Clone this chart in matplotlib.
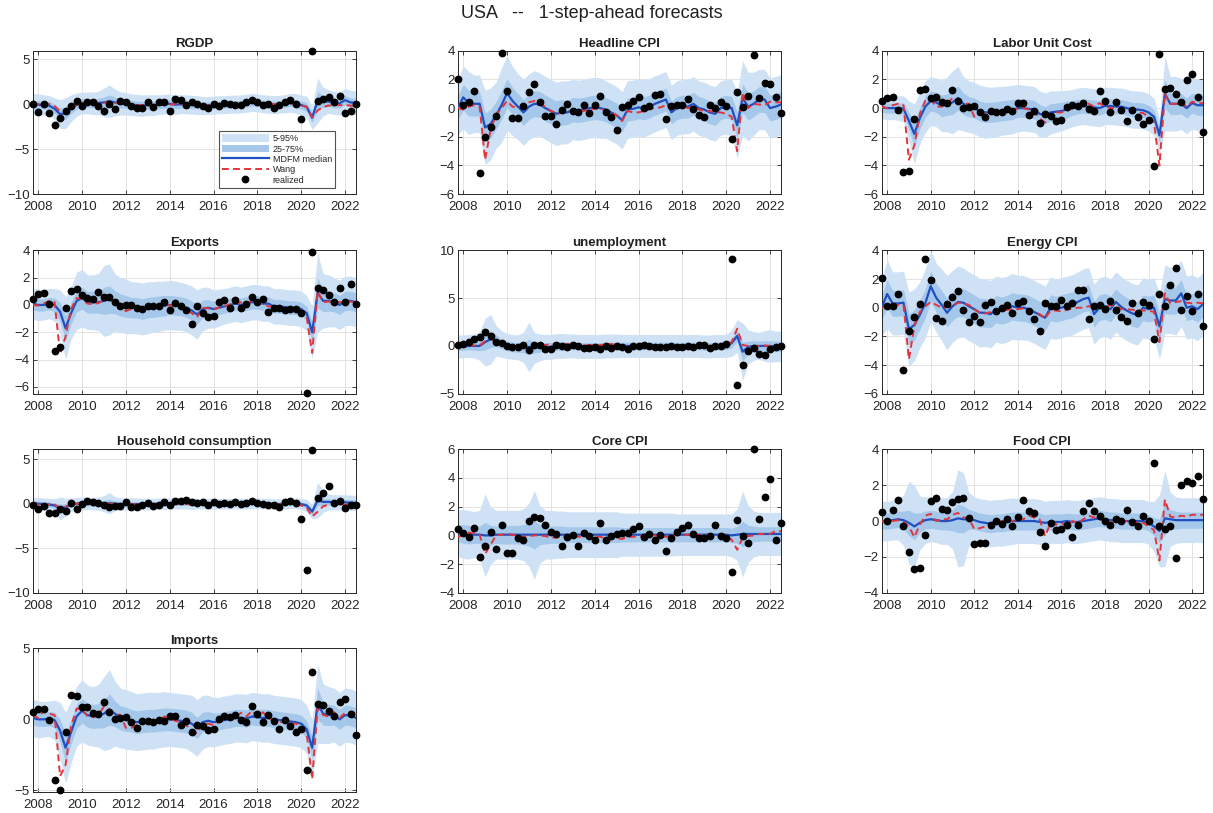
import numpy as np
import matplotlib
matplotlib.use("Agg")
import matplotlib.pyplot as plt
from matplotlib.patches import Patch
from matplotlib.lines import Line2D

plt.rcParams['font.family'] = ['Liberation Sans', 'DejaVu Sans']

# quarterly forecast dates, 2007Q4 .. 2022Q3
dates = 2007.75 + 0.25 * np.arange(60)
nan = np.nan

# ---------------- RGDP ----------------
rgdp_real = [0.0, -0.85, 0.0, -0.95, -2.3, -1.5, -0.7, -0.25, 0.35, -0.15,
             0.3, 0.2, -0.15, -0.7, 0.05, -0.5, 0.4, 0.2, -0.15, -0.4,
             -0.4, 0.25, -0.3, 0.2, 0.2, -0.75, 0.55, 0.5, -0.1, 0.25,
             0.05, -0.2, -0.4, 0.0, -0.25, 0.15, 0.0, -0.05, -0.05, 0.2,
             0.45, 0.2, -0.05, 0.05, -0.4, -0.05, 0.25, 0.45, 0.05, -1.65,
             nan, 5.9, 0.35, 0.55, 0.75, 0.2, 0.9, -0.95, -0.7, 0.0]
rgdp_med = [0.0, -0.05, -0.1, -0.15, -0.5, -1.1, -1.0, -0.45, -0.05, 0.15,
            0.15, 0.1, 0.15, 0.2, 0.35, 0.2, 0.1, 0.05, -0.05, -0.1,
            -0.15, -0.1, -0.1, -0.05, 0.0, 0.05, -0.05, 0.0, 0.0, -0.05,
            -0.1, -0.15, -0.15, -0.1, -0.05, -0.05, 0.0, 0.0, 0.05, 0.1,
            0.2, 0.15, 0.05, 0.0, -0.05, 0.0, 0.05, 0.15, 0.1, -0.1,
            -0.3, -1.5, 0.4, 0.3, 0.3, 0.15, 0.1, 0.45, 0.2, 0.15]
rgdp_wang = [0.1, 0.0, 0.15, 0.0, -0.2, -0.8, -1.0, -0.5, -0.1, 0.1,
             0.15, 0.1, 0.05, 0.15, 0.3, 0.15, 0.05, 0.0, -0.1, -0.1,
             -0.1, -0.15, -0.05, 0.0, 0.0, -0.05, 0.05, 0.0, -0.1, 0.0,
             0.0, -0.1, -0.1, -0.05, -0.05, 0.0, 0.05, 0.0, 0.05, 0.05,
             0.15, 0.1, 0.05, 0.0, 0.0, 0.0, 0.0, 0.05, 0.05, -0.1,
             -0.3, -1.45, -0.7, -0.3, -0.15, -0.1, -0.1, -0.1, -0.15, -0.2]
rgdp_w90 = [1.2, 1.2, 1.15, 1.1, 1.2, 1.6, 1.7, 1.5, 1.3, 1.2,
            1.2, 1.25, 1.3, 1.6, 1.8, 1.5, 1.3, 1.25, 1.2, 1.2,
            1.2, 1.15, 1.15, 1.1, 1.1, 1.1, 1.1, 1.05, 1.05, 1.05,
            1.05, 1.0, 1.0, 1.0, 1.0, 1.0, 1.0, 1.0, 1.0, 1.0,
            1.0, 1.0, 1.0, 1.0, 1.0, 1.0, 1.0, 1.05, 1.1, 1.1,
            1.2, 1.3, 2.5, 1.6, 1.3, 1.3, 1.3, 1.3, 1.35, 1.35]
rgdp_w50 = [0.45, 0.45, 0.45, 0.45, 0.5, 0.65, 0.7, 0.6, 0.5, 0.5,
            0.5, 0.5, 0.5, 0.6, 0.7, 0.6, 0.5, 0.5, 0.45, 0.45,
            0.45, 0.45, 0.45, 0.45, 0.45, 0.45, 0.45, 0.45, 0.45, 0.45,
            0.4, 0.4, 0.4, 0.4, 0.4, 0.4, 0.4, 0.4, 0.4, 0.4,
            0.4, 0.4, 0.4, 0.4, 0.4, 0.4, 0.4, 0.4, 0.45, 0.45,
            0.5, 0.55, 1.0, 0.65, 0.55, 0.55, 0.5, 0.5, 0.5, 0.5]

# ---------------- Headline CPI ----------------
hcpi_real = [2.05, 0.2, 0.4, 1.2, -4.55, -2.0, -1.35, -0.55, 3.85, 1.2,
             -0.7, -0.7, 0.15, 1.15, 1.65, 0.45, -0.55, -0.55, -1.1, -0.15,
             0.3, -0.2, -0.3, 0.25, -0.35, 0.25, 0.85, -0.3, -0.6, -1.55,
             0.1, 0.25, 0.5, 0.8, 0.0, 0.15, 0.9, 0.95, -0.75, 0.15,
             0.25, 0.2, 0.65, -0.05, -0.5, -0.65, 0.25, 0.0, 0.4, 0.15,
             -2.15, 1.15, 0.05, 0.85, 3.7, 0.7, 1.75, 1.65, 0.8, -0.35]
hcpi_med = [0.0, 0.75, 0.35, 0.3, 0.3, -1.35, -1.1, -0.5, 0.2, 1.05,
            0.5, 0.1, -0.3, 0.1, 0.3, 0.25, 0.0, -0.2, -0.4, -0.3,
            -0.3, -0.1, -0.15, -0.1, 0.0, 0.05, 0.0, -0.1, -0.3, -0.5,
            -0.85, -0.1, -0.05, 0.05, 0.0, 0.1, 0.3, 0.45, 0.6, -0.3,
            0.0, 0.1, 0.1, 0.3, 0.0, -0.1, -0.3, -0.4, 0.0, 0.1,
            0.0, -1.2, 0.7, 0.1, 0.3, 0.6, 0.6, 0.0, 0.1, 0.25]
hcpi_wang = [0.0, -0.1, 0.1, 0.2, 0.1, -3.6, -1.5, -0.5, 0.0, 0.5,
             0.1, 0.05, 0.1, 0.4, 0.5, 0.3, 0.1, -0.2, -0.35, -0.35,
             -0.3, -0.2, -0.25, -0.2, -0.1, -0.05, -0.05, -0.15, -0.3, -0.5,
             -0.9, -0.2, -0.3, -0.3, -0.2, -0.05, 0.0, 0.05, 0.2, -0.1,
             0.3, 0.1, 0.0, 0.1, -0.1, -0.2, -0.2, -0.3, -0.3, -0.4,
             -0.6, -3.0, 1.1, 0.0, 0.3, 0.25, 0.2, 0.45, 0.4, 0.4]
hcpi_w90 = [1.9, 2.2, 2.2, 2.0, 2.0, 2.6, 2.5, 2.3, 2.6, 2.6,
            2.4, 2.3, 2.3, 2.3, 2.3, 2.2, 2.2, 2.2, 2.2, 2.2,
            2.2, 2.1, 2.1, 2.1, 2.1, 2.1, 2.1, 2.0, 2.0, 2.0,
            2.0, 2.0, 2.0, 2.0, 2.0, 1.95, 1.95, 1.95, 1.95, 1.9,
            1.9, 1.9, 1.9, 1.9, 1.9, 1.9, 1.9, 1.9, 1.9, 1.9,
            2.0, 2.3, 2.6, 2.4, 2.2, 2.1, 2.1, 2.1, 2.1, 2.1]
hcpi_w50 = [0.8, 0.9, 0.9, 0.85, 0.85, 1.0, 1.0, 0.95, 1.0, 1.0,
            0.95, 0.9, 0.9, 0.9, 0.9, 0.9, 0.9, 0.9, 0.9, 0.9,
            0.85, 0.85, 0.85, 0.85, 0.85, 0.85, 0.85, 0.85, 0.85, 0.85,
            0.8, 0.8, 0.8, 0.8, 0.8, 0.8, 0.8, 0.8, 0.8, 0.8,
            0.8, 0.8, 0.8, 0.8, 0.8, 0.8, 0.8, 0.8, 0.8, 0.8,
            0.8, 0.95, 1.0, 0.95, 0.9, 0.9, 0.9, 0.9, 0.9, 0.9]

# ---------------- Labor Unit Cost ----------------
luc_real = [0.5, 0.7, 0.8, -0.15, -4.45, -4.35, -0.75, 1.25, 1.35, 0.7,
            0.8, 0.4, 0.35, 1.25, 0.5, 0.0, 0.1, 0.15, -0.25, -0.65,
            -0.2, -0.25, -0.25, -0.05, -0.2, 0.35, 0.35, -0.45, -0.2, -1.05,
            -0.4, -0.55, -0.9, -0.8, 0.05, 0.25, 0.15, 0.35, -0.05, -0.2,
            1.2, 0.5, -0.25, 0.45, -0.15, -0.9, -0.15, -0.6, -1.1, -0.85,
            -4.05, 3.75, 1.35, 1.4, 0.95, 0.4, 1.95, 2.35, 0.75, -1.7]
luc_med = [0.05, 0.0, 0.0, 0.0, -0.05, -0.9, -1.8, -0.7, 0.1, 0.5,
           0.4, 0.15, 0.25, 0.4, 0.7, 0.3, 0.1, 0.0, -0.2, -0.3,
           -0.3, -0.25, -0.2, -0.15, -0.1, 0.0, 0.0, -0.05, -0.1, -0.4,
           -0.5, -0.3, -0.25, -0.2, -0.1, 0.0, 0.1, 0.15, 0.1, 0.05,
           0.0, 0.15, 0.15, 0.1, 0.1, 0.0, -0.1, -0.1, -0.15, -0.3,
           -0.6, -1.9, 1.0, 0.3, 0.3, 0.3, 0.0, 0.35, 0.2, 0.2]
luc_wang = [0.1, 0.0, 0.2, 0.3, 0.2, -3.6, -2.6, -0.4, 0.5, 0.6,
            0.1, 0.1, 0.3, 0.7, 0.6, 0.3, 0.3, -0.6, -0.4, -0.35,
            -0.3, -0.3, -0.3, -0.2, -0.1, -0.05, 0.0, -0.1, -0.2, -0.7,
            -1.0, -0.4, -0.3, -0.3, -0.2, 0.0, 0.2, 0.25, 0.3, 0.1,
            0.35, 0.1, 0.0, 0.0, -0.1, -0.2, -0.25, -0.3, -0.35, -0.6,
            -1.0, -4.0, 1.0, 0.3, 0.3, 0.4, 0.1, 0.45, 0.35, 0.35]
luc_w90 = [0.8, 0.8, 0.8, 0.85, 0.9, 1.4, 2.1, 1.8, 1.8, 1.7,
           1.7, 1.8, 1.9, 2.2, 2.2, 1.9, 1.8, 1.8, 1.8, 1.8,
           1.75, 1.75, 1.7, 1.7, 1.7, 1.65, 1.6, 1.6, 1.6, 1.6,
           1.55, 1.5, 1.45, 1.4, 1.35, 1.3, 1.3, 1.3, 1.3, 1.3,
           1.3, 1.3, 1.3, 1.3, 1.3, 1.3, 1.3, 1.3, 1.3, 1.3,
           1.3, 1.2, 2.6, 1.9, 1.9, 1.8, 1.8, 1.8, 1.8, 1.8]
luc_w50 = [0.35, 0.35, 0.35, 0.35, 0.4, 0.6, 0.9, 0.75, 0.75, 0.7,
           0.7, 0.75, 0.75, 0.85, 0.85, 0.75, 0.7, 0.7, 0.7, 0.7,
           0.7, 0.7, 0.7, 0.7, 0.7, 0.65, 0.65, 0.65, 0.65, 0.65,
           0.6, 0.6, 0.6, 0.6, 0.6, 0.5, 0.5, 0.5, 0.5, 0.5,
           0.5, 0.5, 0.5, 0.5, 0.5, 0.5, 0.5, 0.5, 0.5, 0.5,
           0.5, 0.5, 1.0, 0.75, 0.75, 0.7, 0.7, 0.7, 0.7, 0.7]

# ---------------- Exports ----------------
exp_real = [0.4, 0.8, 0.9, 0.05, -3.35, -3.1, -0.25, 1.05, 1.2, 0.7,
            0.5, 0.4, 0.95, 0.55, 0.55, 0.25, -0.1, 0.0, 0.0, -0.2,
            -0.3, -0.1, -0.1, -0.1, 0.25, -0.4, 0.15, -0.1, -0.4, -1.4,
            -0.1, -0.6, -0.85, -0.8, 0.25, 0.35, -0.2, 0.35, -0.2, 0.1,
            0.55, 0.25, 0.4, -0.5, -0.2, -0.2, -0.35, -0.3, -0.3, -0.6,
            -6.45, 3.9, 1.25, 1.1, 0.75, 0.2, 1.25, 0.25, 1.5, 0.1]
exp_med = [0.1, 0.0, 0.0, 0.1, 0.0, -0.5, -1.7, -0.6, 0.3, 0.5,
           0.2, 0.2, 0.2, 0.3, 0.4, 0.2, 0.0, -0.1, -0.2, -0.2,
           -0.3, -0.2, -0.15, -0.1, -0.05, 0.0, -0.05, -0.1, -0.2, -0.4,
           -0.7, -0.3, -0.2, -0.3, -0.2, -0.1, 0.0, 0.1, 0.0, 0.1,
           0.2, 0.2, 0.1, 0.1, -0.1, -0.1, -0.15, -0.2, -0.2, -0.3,
           -0.6, -2.0, 0.9, 0.3, 0.3, 0.2, 0.0, 0.3, 0.3, 0.2]
exp_wang = [0.0, -0.05, 0.1, 0.3, 0.2, -3.6, -2.3, -0.3, 0.5, 0.45,
            0.1, 0.05, 0.15, 0.35, 0.4, 0.25, 0.0, -0.45, -0.3, -0.3,
            -0.3, -0.25, -0.2, -0.1, 0.05, -0.05, -0.05, -0.15, -0.3, -0.6,
            -0.9, -0.2, -0.25, -0.3, -0.2, -0.1, 0.05, 0.1, 0.2, 0.05,
            0.3, 0.2, 0.1, -0.1, -0.15, -0.2, -0.2, -0.25, -0.3, -0.4,
            -0.9, -3.5, 1.0, 0.2, 0.25, 0.25, 0.2, 0.25, 0.25, 0.2]
exp_w90 = [1.15, 1.15, 1.1, 1.1, 1.2, 1.6, 2.3, 1.9, 2.1, 2.1,
           2.0, 2.0, 2.1, 2.6, 2.6, 2.1, 2.0, 2.0, 1.9, 1.9,
           1.9, 1.9, 1.85, 1.85, 1.8, 1.8, 1.8, 1.75, 1.75, 1.8,
           1.8, 1.6, 1.5, 1.4, 1.35, 1.3, 1.3, 1.3, 1.3, 1.3,
           1.3, 1.3, 1.3, 1.3, 1.3, 1.3, 1.3, 1.3, 1.3, 1.3,
           1.3, 1.9, 2.9, 2.0, 1.9, 1.8, 1.8, 1.8, 1.8, 1.8]
exp_w50 = [0.45, 0.45, 0.45, 0.45, 0.5, 0.7, 0.9, 0.8, 0.8, 0.8,
           0.8, 0.8, 0.8, 1.0, 1.0, 0.85, 0.8, 0.8, 0.75, 0.75,
           0.75, 0.75, 0.75, 0.75, 0.75, 0.7, 0.7, 0.7, 0.7, 0.7,
           0.7, 0.65, 0.6, 0.55, 0.5, 0.5, 0.5, 0.5, 0.5, 0.5,
           0.5, 0.5, 0.5, 0.5, 0.5, 0.5, 0.5, 0.5, 0.5, 0.5,
           0.5, 0.75, 1.1, 0.8, 0.75, 0.7, 0.7, 0.7, 0.7, 0.7]

# ---------------- unemployment ----------------
un_real = [0.15, 0.25, 0.4, 0.7, 0.95, 1.45, 1.05, 0.4, 0.35, -0.05,
           -0.15, -0.15, 0.1, -0.45, 0.05, 0.05, -0.3, -0.3, 0.1, -0.05,
           -0.15, 0.05, -0.05, -0.2, -0.2, -0.15, -0.3, -0.05, -0.2, -0.05,
           -0.1, -0.3, -0.05, -0.05, 0.05, 0.0, -0.1, -0.15, -0.15, 0.0,
           -0.1, -0.1, -0.05, -0.1, 0.1, 0.05, -0.2, 0.0, 0.0, 0.25,
           9.1, -4.1, -2.0, -0.5, -0.25, -0.85, -0.9, -0.3, -0.15, -0.05]
un_med = [-0.05, -0.05, 0.0, 0.0, 0.0, 0.4, 0.7, 0.55, 0.2, 0.0,
          -0.1, -0.15, -0.15, -0.1, -0.2, -0.15, -0.1, -0.1, 0.0, 0.0,
          0.0, 0.0, -0.05, -0.05, -0.05, -0.05, -0.05, 0.0, 0.0, 0.0,
          0.0, 0.0, 0.0, 0.0, 0.0, 0.0, 0.0, 0.0, 0.0, 0.0,
          0.0, 0.0, 0.0, 0.0, 0.0, -0.05, -0.05, 0.0, 0.0, 0.0,
          0.3, 1.05, -0.6, -0.1, 0.0, 0.0, 0.0, 0.0, -0.05, -0.05]
un_wang = [0.15, 0.1, 0.05, 0.05, 0.05, 0.5, 0.75, 0.45, 0.15, 0.0,
           -0.1, -0.1, 0.0, 0.1, -0.1, 0.05, 0.1, 0.2, 0.25, 0.2,
           0.2, 0.2, 0.15, 0.1, 0.1, 0.05, 0.1, 0.15, 0.2, 0.1,
           0.0, 0.05, 0.0, 0.0, 0.0, 0.05, 0.0, 0.0, 0.0, 0.0,
           0.05, 0.05, 0.0, 0.0, 0.0, 0.0, 0.0, 0.05, 0.05, 0.1,
           0.4, 1.8, 0.1, 0.0, 0.0, 0.0, 0.05, 0.0, 0.0, 0.0]
un_w90 = [1.2, 1.2, 1.2, 1.25, 1.5, 2.5, 2.6, 1.6, 1.4, 1.3,
          1.3, 1.3, 1.6, 2.6, 1.6, 1.4, 1.3, 1.3, 1.3, 1.3,
          1.25, 1.25, 1.25, 1.25, 1.25, 1.25, 1.25, 1.25, 1.25, 1.25,
          1.2, 1.2, 1.2, 1.2, 1.2, 1.2, 1.2, 1.2, 1.2, 1.2,
          1.2, 1.2, 1.2, 1.2, 1.2, 1.2, 1.2, 1.2, 1.2, 1.2,
          1.4, 1.7, 3.0, 1.8, 1.5, 1.4, 1.6, 1.7, 1.6, 1.6]
un_w50 = [0.4, 0.4, 0.4, 0.45, 0.5, 0.8, 0.85, 0.6, 0.5, 0.5,
          0.5, 0.5, 0.55, 0.8, 0.55, 0.5, 0.45, 0.45, 0.45, 0.45,
          0.4, 0.4, 0.4, 0.4, 0.4, 0.4, 0.4, 0.4, 0.4, 0.4,
          0.4, 0.4, 0.4, 0.4, 0.4, 0.4, 0.4, 0.4, 0.4, 0.4,
          0.4, 0.4, 0.4, 0.4, 0.4, 0.4, 0.4, 0.4, 0.4, 0.4,
          0.5, 0.6, 1.0, 0.6, 0.55, 0.5, 0.55, 0.55, 0.55, 0.55]

# ---------------- Energy CPI ----------------
ecpi_real = [2.1, 0.15, 0.15, 0.95, -4.35, -1.6, -0.65, 0.25, 3.4, 1.95,
             -0.7, -0.9, 0.25, 0.75, 1.15, -0.15, -1.0, -0.6, -1.0, 0.2,
             0.4, -0.2, -0.05, 0.2, -0.35, 0.3, 0.45, -0.25, -0.8, -1.65,
             0.3, 0.15, 0.15, 0.55, 0.15, 0.3, 1.25, 1.25, -0.8, 0.15,
             0.2, -0.1, 0.5, -0.15, -0.65, -0.9, 0.35, -0.35, 0.4, 0.2,
             -2.15, 0.95, 0.15, 1.6, 2.8, -0.15, 0.8, -0.25, 0.95, -1.25]
ecpi_med = [0.0, 0.95, 0.3, 0.3, 0.35, -1.5, -1.2, -0.5, 0.3, 1.5,
            0.7, 0.2, -0.35, 0.1, 0.4, 0.35, 0.1, -0.1, -0.35, -0.35,
            -0.45, -0.1, -0.2, -0.1, 0.1, 0.0, 0.0, -0.1, -0.3, -0.5,
            -0.7, 0.0, -0.1, 0.0, 0.1, 0.2, 0.4, 0.6, 0.7, -0.45,
            0.0, 0.1, -0.1, 0.4, 0.05, -0.2, -0.4, -0.5, 0.0, -0.1,
            0.0, -1.3, 0.6, 0.5, 0.5, 1.0, 0.0, 0.1, -0.1, 0.25]
ecpi_wang = [0.0, 0.1, 0.15, 0.2, 0.2, -3.6, -1.3, -0.3, 0.1, 0.4,
             0.2, 0.0, 0.05, 0.1, 0.35, 0.3, 0.2, -0.1, -0.35, -0.4,
             -0.3, -0.1, -0.2, -0.15, -0.1, -0.1, -0.05, -0.1, -0.3, -0.45,
             -0.75, -0.2, -0.2, -0.25, -0.15, -0.05, 0.0, 0.0, 0.1, 0.05,
             0.2, 0.0, 0.2, 0.1, -0.1, -0.1, -0.15, -0.15, -0.2, -0.2,
             -0.3, -2.4, 1.0, 0.3, 0.4, 0.45, 0.35, 0.3, 0.35, 0.3]
ecpi_w90 = [2.0, 2.4, 2.2, 2.2, 2.2, 2.6, 2.5, 2.3, 2.4, 2.5,
            2.4, 2.5, 2.6, 2.5, 2.5, 2.4, 2.4, 2.4, 2.4, 2.35,
            2.35, 2.3, 2.3, 2.3, 2.3, 2.25, 2.25, 2.2, 2.2, 2.2,
            2.2, 2.15, 2.1, 2.1, 2.1, 2.1, 2.1, 2.1, 2.1, 2.1,
            2.1, 2.1, 2.1, 2.1, 2.1, 2.1, 2.1, 2.1, 2.1, 2.1,
            2.1, 2.3, 2.4, 2.3, 2.4, 2.3, 2.2, 2.2, 2.2, 2.2]
ecpi_w50 = [0.8, 1.0, 0.9, 0.9, 0.9, 1.1, 1.05, 1.0, 1.0, 1.05,
            1.0, 1.0, 1.0, 1.0, 1.0, 1.0, 1.0, 1.0, 1.0, 1.0,
            0.95, 0.95, 0.95, 0.95, 0.95, 0.95, 0.95, 0.95, 0.95, 0.95,
            0.9, 0.9, 0.9, 0.9, 0.9, 0.9, 0.9, 0.9, 0.9, 0.9,
            0.9, 0.9, 0.9, 0.9, 0.9, 0.9, 0.9, 0.9, 0.9, 0.9,
            0.9, 1.0, 1.0, 0.95, 0.95, 0.95, 0.9, 0.9, 0.9, 0.9]

# ---------------- Household consumption ----------------
hh_real = [-0.2, -0.6, -0.25, -1.05, -1.1, -0.65, -0.8, 0.1, -0.55, -0.05,
           0.25, 0.15, 0.05, -0.1, -0.35, -0.25, -0.25, 0.15, -0.35, -0.35,
           -0.2, 0.05, -0.25, -0.2, 0.2, -0.2, 0.25, 0.25, 0.4, 0.15,
           0.1, 0.15, -0.1, 0.15, -0.05, 0.1, -0.05, 0.15, -0.05, 0.05,
           0.35, 0.1, -0.05, -0.1, -0.2, -0.35, 0.2, 0.35, 0.1, -1.75,
           -7.4, 6.05, 0.6, 1.15, 1.95, 0.05, 0.35, -0.5, -0.1, -0.2]
hh_med = [0.0, 0.0, -0.05, -0.1, -0.2, -0.55, -0.4, -0.1, 0.0, 0.05,
          0.05, 0.0, 0.0, 0.0, 0.05, 0.0, -0.05, -0.05, -0.05, -0.05,
          -0.05, -0.05, -0.05, 0.0, 0.0, 0.0, 0.05, 0.05, 0.05, 0.0,
          0.0, 0.0, 0.0, 0.0, 0.0, 0.0, 0.0, 0.0, 0.0, 0.0,
          0.05, 0.05, 0.0, 0.0, -0.05, -0.05, 0.0, 0.05, 0.05, -0.05,
          -0.2, -0.9, 0.4, 0.2, 0.2, 0.15, 0.15, 0.15, 0.1, 0.1]
hh_wang = [0.1, -0.1, -0.05, -0.1, -0.1, -0.45, -0.35, -0.05, 0.0, 0.0,
           0.05, 0.0, -0.05, 0.0, 0.0, -0.05, -0.05, -0.05, -0.05, -0.1,
           -0.05, -0.05, -0.05, 0.0, 0.0, 0.0, 0.0, 0.0, -0.05, -0.05,
           0.0, 0.0, -0.05, 0.0, 0.0, 0.0, 0.0, 0.0, 0.0, 0.0,
           0.0, 0.0, 0.0, -0.05, -0.05, -0.1, 0.0, 0.0, 0.0, -0.2,
           -0.5, -1.45, -0.9, -0.3, -0.1, -0.1, -0.1, -0.1, -0.1, -0.15]
hh_w90 = [0.7, 0.7, 0.7, 0.7, 0.75, 1.3, 1.0, 0.75, 0.7, 0.7,
          0.7, 0.7, 0.75, 0.9, 1.2, 0.8, 0.7, 0.7, 0.7, 0.7,
          0.65, 0.65, 0.65, 0.65, 0.65, 0.65, 0.65, 0.65, 0.65, 0.65,
          0.6, 0.6, 0.6, 0.6, 0.6, 0.6, 0.6, 0.6, 0.6, 0.6,
          0.6, 0.6, 0.6, 0.6, 0.6, 0.6, 0.6, 0.6, 0.6, 0.6,
          0.7, 0.8, 2.0, 1.2, 0.9, 0.85, 0.85, 0.85, 0.85, 0.85]
hh_w50 = [0.3, 0.3, 0.3, 0.3, 0.3, 0.5, 0.4, 0.3, 0.3, 0.3,
          0.3, 0.3, 0.3, 0.35, 0.45, 0.3, 0.3, 0.3, 0.3, 0.3,
          0.25, 0.25, 0.25, 0.25, 0.25, 0.25, 0.25, 0.25, 0.25, 0.25,
          0.25, 0.25, 0.25, 0.25, 0.25, 0.25, 0.25, 0.25, 0.25, 0.25,
          0.25, 0.25, 0.25, 0.25, 0.25, 0.25, 0.25, 0.25, 0.25, 0.25,
          0.3, 0.35, 0.6, 0.4, 0.35, 0.35, 0.35, 0.35, 0.35, 0.35]

# ---------------- Core CPI ----------------
ccpi_real = [0.45, 0.15, -0.1, 0.55, -1.5, -0.75, 0.25, -0.95, 0.75, -1.2,
             -1.2, -0.15, -0.35, 1.0, 1.25, 1.2, 0.75, 0.25, 0.1, -0.75,
             -0.1, 0.0, -0.75, 0.2, -0.05, -0.3, 0.85, -0.3, -0.05, 0.1,
             0.2, 0.2, 0.45, 0.65, -0.1, 0.1, -0.3, 0.05, -1.1, -0.2,
             0.25, 0.5, 0.75, 0.1, -0.15, -0.15, -0.05, 0.75, -0.05, -0.15,
             -2.55, 1.1, -0.05, -0.5, 6.0, 1.15, 2.7, 3.95, -0.35, 0.85]
ccpi_med = [0.15, 0.1, 0.05, 0.05, 0.05, 0.0, 0.0, 0.05, 0.05, 0.05,
            0.05, 0.05, 0.05, 0.05, 0.05, 0.05, 0.05, 0.05, 0.05, 0.05,
            0.05, 0.05, 0.05, 0.05, 0.05, 0.05, 0.05, 0.05, 0.05, 0.05,
            0.05, 0.05, 0.05, 0.05, 0.05, 0.05, 0.05, 0.05, 0.05, 0.05,
            0.05, 0.05, 0.05, 0.05, 0.05, 0.05, 0.05, 0.05, 0.05, 0.05,
            0.0, 0.05, 0.1, 0.1, 0.1, 0.1, 0.1, 0.1, 0.1, 0.1]
ccpi_wang = [-0.1, 0.0, 0.2, 0.15, 0.05, -1.3, -0.65, 0.0, 0.05, 0.1,
             0.05, -0.05, -0.1, -0.05, 0.0, 0.0, -0.05, -0.15, -0.15, -0.1,
             -0.1, -0.05, -0.1, -0.05, 0.0, -0.05, -0.1, -0.2, -0.2, -0.2,
             -0.25, -0.1, -0.1, -0.05, -0.05, 0.0, 0.0, -0.05, -0.1, 0.0,
             0.0, 0.05, 0.05, 0.05, 0.05, 0.0, 0.0, 0.0, -0.05, -0.1,
             -0.3, -1.0, -0.15, -0.05, 0.0, 0.1, 0.1, 0.1, 0.3, 0.3]
ccpi_w90 = [1.6, 1.7, 1.7, 1.6, 1.7, 2.9, 2.0, 1.7, 1.7, 1.7,
            1.7, 1.7, 1.8, 2.2, 3.1, 2.0, 1.7, 1.7, 1.65, 1.65,
            1.6, 1.6, 1.6, 1.6, 1.6, 1.6, 1.6, 1.6, 1.6, 1.6,
            1.5, 1.5, 1.5, 1.5, 1.5, 1.5, 1.5, 1.5, 1.5, 1.5,
            1.45, 1.45, 1.45, 1.45, 1.45, 1.45, 1.45, 1.45, 1.45, 1.45,
            1.5, 1.8, 3.0, 2.0, 1.6, 1.5, 1.5, 1.5, 1.5, 1.5]
ccpi_w50 = [0.6, 0.65, 0.65, 0.6, 0.6, 0.9, 0.7, 0.6, 0.65, 0.65,
            0.65, 0.65, 0.7, 0.8, 1.0, 0.7, 0.65, 0.6, 0.6, 0.6,
            0.55, 0.55, 0.55, 0.55, 0.55, 0.55, 0.55, 0.55, 0.55, 0.55,
            0.5, 0.5, 0.5, 0.5, 0.5, 0.5, 0.5, 0.5, 0.5, 0.5,
            0.5, 0.5, 0.5, 0.5, 0.5, 0.5, 0.5, 0.5, 0.5, 0.5,
            0.5, 0.6, 0.9, 0.6, 0.55, 0.5, 0.5, 0.5, 0.5, 0.5]

# ---------------- Food CPI ----------------
fcpi_real = [0.5, 0.0, 0.6, 1.2, -0.3, -1.7, -2.7, -2.6, -0.8, 1.1,
             1.3, 0.65, 0.6, 1.05, 1.25, 1.3, 0.15, -1.3, -1.25, -1.2,
             -0.2, 0.0, -0.15, 0.1, -0.3, 0.25, 1.15, 0.55, 0.45, -0.6,
             -1.4, -0.1, -0.5, -0.45, -0.2, -0.9, -0.2, 0.55, 1.0, 0.55,
             0.3, 0.0, -0.2, 0.1, 0.0, 0.6, -0.05, -0.3, 0.3, 0.0,
             3.25, -0.3, -0.45, -0.25, -2.05, 2.0, 2.25, 2.1, 2.5, 1.25]
fcpi_med = [0.0, 0.0, 0.05, 0.1, 0.05, -0.1, -0.3, -0.1, 0.05, 0.1,
            0.05, 0.0, 0.0, 0.05, 0.15, 0.1, 0.1, 0.05, -0.05, -0.1,
            -0.15, -0.1, -0.1, -0.05, 0.0, 0.0, 0.0, 0.0, 0.0, -0.05,
            -0.1, -0.05, -0.05, -0.05, 0.0, -0.05, -0.05, 0.0, 0.05, 0.1,
            0.15, 0.1, 0.05, 0.05, 0.0, 0.0, 0.0, 0.0, 0.0, -0.1,
            -0.3, -0.55, 0.15, 0.1, 0.05, 0.05, 0.05, 0.05, 0.05, 0.05]
fcpi_wang = [0.0, -0.1, 0.0, 0.05, -0.05, -0.3, -0.9, -0.2, 0.3, 0.4,
             0.0, 0.1, 0.1, 0.35, 0.45, 0.2, 0.15, -0.45, -0.4, -0.3,
             -0.4, -0.1, 0.0, 0.05, 0.0, 0.1, 0.1, 0.3, 0.2, 0.1,
             -0.85, -0.1, -0.2, -0.1, -0.3, 0.0, -0.1, 0.1, 0.3, 0.2,
             0.1, 0.0, -0.1, 0.0, -0.1, 0.0, 0.05, -0.1, -0.1, -0.3,
             -0.5, -2.2, 1.2, 0.25, 0.2, 0.3, 0.25, 0.35, 0.35, 0.35]
fcpi_w90 = [1.1, 1.1, 1.1, 1.15, 1.4, 2.3, 2.3, 1.5, 1.3, 1.25,
            1.25, 1.3, 1.3, 1.6, 2.7, 2.6, 1.5, 1.3, 1.3, 1.3,
            1.3, 1.3, 1.3, 1.3, 1.3, 1.25, 1.25, 1.25, 1.25, 1.25,
            1.2, 1.2, 1.2, 1.2, 1.2, 1.2, 1.2, 1.2, 1.2, 1.2,
            1.2, 1.2, 1.2, 1.2, 1.2, 1.2, 1.2, 1.2, 1.2, 1.2,
            1.4, 2.0, 2.7, 1.5, 1.3, 1.25, 1.25, 1.25, 1.25, 1.25]
fcpi_w50 = [0.45, 0.45, 0.45, 0.45, 0.5, 0.7, 0.75, 0.55, 0.5, 0.5,
            0.5, 0.5, 0.5, 0.6, 0.8, 0.75, 0.55, 0.5, 0.5, 0.5,
            0.5, 0.5, 0.5, 0.5, 0.5, 0.5, 0.5, 0.5, 0.5, 0.5,
            0.45, 0.45, 0.45, 0.45, 0.45, 0.45, 0.45, 0.45, 0.45, 0.45,
            0.45, 0.45, 0.45, 0.45, 0.45, 0.45, 0.45, 0.45, 0.45, 0.45,
            0.5, 0.65, 0.9, 0.55, 0.5, 0.45, 0.45, 0.45, 0.45, 0.45]

# ---------------- Imports ----------------
imp_real = [0.5, 0.7, 0.75, -0.05, -4.25, -5.0, -0.9, 1.7, 1.65, 0.85,
            0.85, 0.45, 0.35, 1.25, 0.5, 0.0, 0.1, 0.15, -0.2, -0.6,
            -0.15, -0.15, -0.2, -0.05, -0.15, 0.25, 0.25, -0.4, -0.1, -0.9,
            -0.4, -0.45, -0.75, -0.65, 0.0, 0.2, 0.15, 0.3, -0.05, -0.2,
            0.95, 0.35, -0.2, 0.3, -0.1, -0.65, -0.05, -0.45, -0.9, -0.65,
            -3.6, 3.3, 1.05, 1.0, 0.6, 0.2, 1.25, 1.4, 0.35, -1.1]
imp_med = [0.1, 0.0, 0.0, 0.05, -0.05, -0.8, -2.0, -0.9, 0.2, 0.6,
           0.3, 0.2, 0.25, 0.4, 0.7, 0.4, 0.1, 0.0, -0.1, -0.2,
           -0.15, -0.1, -0.1, -0.05, 0.0, 0.0, -0.05, -0.1, -0.15, -0.3,
           -0.6, -0.2, -0.1, -0.2, -0.15, -0.05, 0.0, 0.1, 0.1, 0.05,
           0.2, 0.15, 0.1, 0.1, 0.0, -0.05, -0.1, -0.15, -0.2, -0.3,
           -0.7, -2.0, 1.1, 0.4, 0.3, 0.3, 0.0, 0.3, 0.25, 0.1]
imp_wang = [0.3, 0.1, 0.6, 0.4, 0.3, -4.0, -3.2, -0.5, 0.75, 0.75,
            0.2, 0.15, 0.3, 0.9, 0.7, 0.4, 0.3, -0.6, -0.6, -0.4,
            -0.3, -0.2, -0.2, -0.1, 0.2, 0.1, -0.1, -0.2, -0.4, -0.8,
            -1.0, -0.3, -0.3, -0.4, -0.2, 0.0, 0.3, 0.2, 0.45, 0.2,
            0.6, 0.2, 0.5, 0.1, -0.1, -0.2, -0.2, -0.3, -0.3, -0.5,
            -1.0, -4.2, 0.8, 0.3, 0.2, 0.5, 0.1, 0.45, 0.5, 0.4]
imp_w90 = [1.3, 1.3, 1.25, 1.25, 1.4, 2.0, 2.5, 2.2, 2.1, 2.2,
           2.1, 2.1, 2.2, 2.6, 2.8, 2.3, 2.1, 2.1, 2.05, 2.0,
           2.0, 2.0, 2.0, 1.95, 1.95, 1.9, 1.9, 1.9, 1.9, 2.0,
           2.0, 1.9, 1.8, 1.75, 1.7, 1.7, 1.7, 1.7, 1.7, 1.7,
           1.7, 1.7, 1.7, 1.7, 1.7, 1.7, 1.7, 1.7, 1.7, 1.7,
           1.7, 2.0, 2.8, 2.1, 2.0, 1.9, 1.9, 1.9, 1.9, 1.9]
imp_w50 = [0.5, 0.5, 0.5, 0.5, 0.55, 0.8, 1.0, 0.85, 0.85, 0.85,
           0.85, 0.85, 0.85, 1.0, 1.1, 0.9, 0.85, 0.85, 0.8, 0.8,
           0.8, 0.8, 0.8, 0.8, 0.8, 0.8, 0.8, 0.8, 0.8, 0.8,
           0.75, 0.7, 0.65, 0.65, 0.6, 0.6, 0.6, 0.6, 0.6, 0.6,
           0.6, 0.6, 0.6, 0.6, 0.6, 0.6, 0.6, 0.6, 0.6, 0.6,
           0.6, 0.8, 1.1, 0.8, 0.75, 0.7, 0.7, 0.7, 0.7, 0.7]

# panel: (title, realized, median, wang, 90% half width, 50% half width, ylim, yticks, row, col)
panels = [
    ("RGDP", rgdp_real, rgdp_med, rgdp_wang, rgdp_w90, rgdp_w50, (-10, 5.95), [-10, -5, 0, 5], 0, 0),
    ("Headline CPI", hcpi_real, hcpi_med, hcpi_wang, hcpi_w90, hcpi_w50, (-6, 4), [-6, -4, -2, 0, 2, 4], 0, 1),
    ("Labor Unit Cost", luc_real, luc_med, luc_wang, luc_w90, luc_w50, (-6, 4), [-6, -4, -2, 0, 2, 4], 0, 2),
    ("Exports", exp_real, exp_med, exp_wang, exp_w90, exp_w50, (-6.5, 4), [-6, -4, -2, 0, 2, 4], 1, 0),
    ("unemployment", un_real, un_med, un_wang, un_w90, un_w50, (-5, 10), [-5, 0, 5, 10], 1, 1),
    ("Energy CPI", ecpi_real, ecpi_med, ecpi_wang, ecpi_w90, ecpi_w50, (-6, 4), [-6, -4, -2, 0, 2, 4], 1, 2),
    ("Household consumption", hh_real, hh_med, hh_wang, hh_w90, hh_w50, (-10, 6.1), [-10, -5, 0, 5], 2, 0),
    ("Core CPI", ccpi_real, ccpi_med, ccpi_wang, ccpi_w90, ccpi_w50, (-4, 6), [-4, -2, 0, 2, 4, 6], 2, 1),
    ("Food CPI", fcpi_real, fcpi_med, fcpi_wang, fcpi_w90, fcpi_w50, (-4, 4), [-4, -2, 0, 2, 4], 2, 2),
    ("Imports", imp_real, imp_med, imp_wang, imp_w90, imp_w50, (-5.1, 5), [-5, 0, 5], 3, 0),
]

xticks = [2008, 2010, 2012, 2014, 2016, 2018, 2020, 2022]

C90 = '#cfe2f5'
C50 = '#a4c7ea'
CMED = '#1f4fc0'
CWANG = '#e3343a'
AXC = '#262626'

W, H = 1213, 813
fig = plt.figure(figsize=(W / 100, H / 100), dpi=100)

col_left = [32.7, 457.7, 881.7]
col_width = [323.3, 323.3, 321.3]
row_top = [50.7, 250.3, 449.3, 648.3]
ax_h = 143.5

for title, real, med, wang, w90, w50, ylim, yt, r, c in panels:
    ax = fig.add_axes([col_left[c] / W, 1 - (row_top[r] + ax_h) / H,
                       col_width[c] / W, ax_h / H])
    med = np.array(med)
    w90 = np.array(w90)
    w50 = np.array(w50)
    ax.fill_between(dates, med - w90, med + w90, color=C90, lw=0, zorder=1)
    ax.fill_between(dates, med - w50, med + w50, color=C50, lw=0, zorder=2)
    ax.plot(dates, med, color=CMED, lw=1.6, zorder=3)
    ax.plot(dates, wang, color=CWANG, lw=1.4, ls=(0, (3.5, 2.2)), zorder=4)
    ax.plot(dates, real, 'o', color='black', ms=4.6, zorder=5, clip_on=False)

    ax.set_xlim(2007.75, 2022.5)
    ax.set_ylim(*ylim)
    ax.set_xticks(xticks)
    ax.set_yticks(yt)
    ax.set_axisbelow(True)
    ax.grid(True, color='#dedede', lw=0.6)
    ax.tick_params(direction='in', length=3, width=0.6, colors=AXC,
                   labelsize=9.5, top=True, right=True)
    ax.tick_params(axis='x', pad=5)
    ax.tick_params(axis='y', pad=2)
    for sp in ax.spines.values():
        sp.set_color(AXC)
        sp.set_linewidth(0.7)
    ax.set_title(title, fontsize=9.5, fontweight='bold', color='#202020', pad=3)

    if title == "RGDP":
        handles = [Patch(facecolor=C90, edgecolor='none', label='5-95%'),
                   Patch(facecolor=C50, edgecolor='none', label='25-75%'),
                   Line2D([], [], color=CMED, lw=1.6, label='MDFM median'),
                   Line2D([], [], color=CWANG, lw=1.4, ls=(0, (3.5, 2.2)), label='Wang'),
                   Line2D([], [], color='black', marker='o', ls='none', ms=4.6, label='realized')]
        leg = ax.legend(handles=handles, loc='lower right', bbox_to_anchor=(0.935, 0.045),
                        fontsize=6.5, frameon=True, fancybox=False, handlelength=5.2,
                        handleheight=0.9, labelspacing=0.15, borderpad=0.35,
                        handletextpad=0.4, borderaxespad=0)
        leg.get_frame().set_edgecolor(AXC)
        leg.get_frame().set_linewidth(0.8)
        for t in leg.get_texts():
            t.set_color(AXC)

fig.text(592 / W, 1 - 14 / H, 'USA   --   1-step-ahead forecasts',
         ha='center', va='center', fontsize=13, color='#202020')

fig.savefig('out.png', dpi=100)
